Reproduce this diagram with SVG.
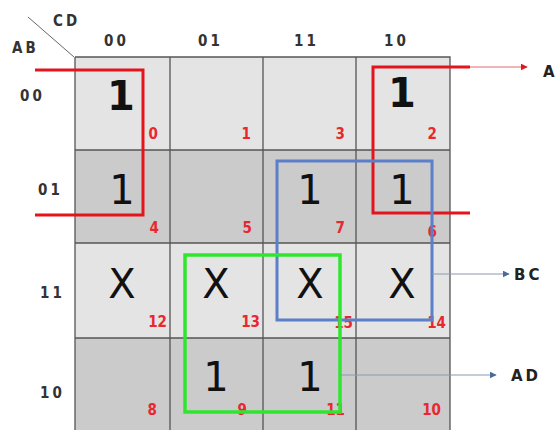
<svg xmlns="http://www.w3.org/2000/svg" width="560" height="430" viewBox="0 0 560 430">
<defs>
<style>
.lt{fill:#e4e4e4}
.dk{fill:#cbcbcb}
.grid{stroke:#555;stroke-width:1.3;fill:none}
.hd{font-family:"DejaVu Sans Condensed","DejaVu Sans",sans-serif;font-weight:bold;font-size:15px;fill:#333;letter-spacing:3px}
.v{font-family:"DejaVu Sans",sans-serif;font-size:40px;fill:#111;text-anchor:middle}
.vb{font-weight:bold}
.n{font-family:"DejaVu Sans Condensed","DejaVu Sans",sans-serif;font-weight:bold;font-size:15px;fill:#e8282e;text-anchor:end}
.red{stroke:#e3141c;stroke-width:3;fill:none}
.blue{stroke:#5b7fc8;stroke-width:3;fill:none}
.green{stroke:#2ee62e;stroke-width:3.5;fill:none}
.conn{stroke:#8a9ab0;stroke-width:1.2;fill:none}
.lbl{font-family:"DejaVu Sans",sans-serif;font-weight:bold;font-size:15px;fill:#222;letter-spacing:3px}
</style>
<marker id="ar" viewBox="0 0 10 10" refX="9" refY="5" markerWidth="7" markerHeight="7" orient="auto" markerUnits="userSpaceOnUse"><path d="M0,0 L10,5 L0,10 z" fill="#4a6a9a"/></marker>
<marker id="arr" viewBox="0 0 10 10" refX="9" refY="5" markerWidth="7" markerHeight="7" orient="auto" markerUnits="userSpaceOnUse"><path d="M0,0 L10,5 L0,10 z" fill="#e3141c"/></marker>
</defs>
<rect width="560" height="430" fill="#fff"/>
<g id="headers">
<line x1="28" y1="17" x2="74" y2="57" stroke="#666" stroke-width="1"/>
<text class="hd" x="53" y="26">CD</text>
<text class="hd" x="12" y="53">AB</text>
<text class="hd" x="104" y="46">00</text>
<text class="hd" x="198" y="46">01</text>
<text class="hd" x="294" y="46">11</text>
<text class="hd" x="384" y="46">10</text>
<text class="hd" x="20" y="101">00</text>
<text class="hd" x="38" y="195">01</text>
<text class="hd" x="40" y="298">11</text>
<text class="hd" x="40" y="398">10</text>
</g>
<g id="grid">
<rect class="lt" x="75" y="57" width="375" height="93"/>
<rect class="dk" x="75" y="150" width="375" height="93"/>
<rect class="lt" x="75" y="243" width="375" height="95"/>
<rect class="dk" x="75" y="338" width="375" height="95"/>
<path class="grid" d="M75,57 H450 V435 M75,57 V435 M170,57 V435 M263,57 V435 M356,57 V435 M75,150 H450 M75,243 H450 M75,338 H450"/>
</g>
<g id="cells">
<text class="v vb" x="121" y="110">1</text><text class="n" x="158" y="139">0</text>
<text class="n" x="251" y="139">1</text>
<text class="n" x="345" y="139">3</text>
<text class="v vb" x="402" y="107">1</text><text class="n" x="437" y="139">2</text>
<text class="v" x="122" y="204">1</text><text class="n" x="159" y="233">4</text>
<text class="n" x="252" y="233">5</text>
<text class="v" x="310" y="204">1</text><text class="n" x="345" y="233">7</text>
<text class="v" x="402" y="204">1</text><text class="n" x="437" y="237">6</text>
<text class="v" x="122" y="298">X</text><text class="n" x="167" y="327">12</text>
<text class="v" x="216" y="298">X</text><text class="n" x="260" y="327">13</text>
<text class="v" x="310" y="298">X</text><text class="n" x="353" y="328">15</text>
<text class="v" x="402" y="298">X</text><text class="n" x="446" y="328">14</text>
<text class="n" x="157" y="415">8</text>
<text class="v" x="216" y="391">1</text><text class="n" x="247" y="415">9</text>
<text class="v" x="310" y="391">1</text><text class="n" x="345" y="415">11</text>
<text class="n" x="441" y="415">10</text>
</g>
<g id="groupA">
<path class="red" d="M35,70 H143 V215 H35"/>
<path class="red" d="M470,67 H373 V213 H470"/>
</g>
<g id="groupBC"><rect class="blue" x="277" y="161" width="155" height="159"/></g>
<g id="groupAD"><rect class="green" x="185" y="255" width="155" height="157"/></g>
<g id="connectors">
<line x1="470" y1="67" x2="527" y2="67" stroke="#e86a70" stroke-width="1.2" marker-end="url(#arr)"/>
<line class="conn" x1="432" y1="274" x2="509" y2="274" marker-end="url(#ar)"/>
<line class="conn" x1="340" y1="375" x2="496" y2="375" marker-end="url(#ar)"/>
</g>
<g id="labels">
<text class="lbl" x="543" y="77">A</text>
<text class="lbl" x="514" y="280">BC</text>
<text class="lbl" x="511" y="381">AD</text>
</g>
</svg>
